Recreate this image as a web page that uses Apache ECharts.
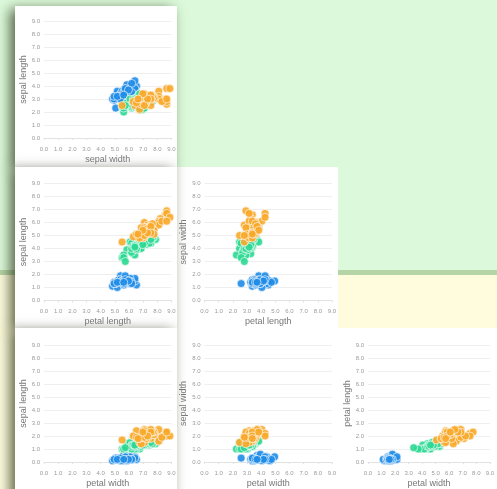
<!DOCTYPE html>
<html>
<head>
<meta charset="utf-8">
<script src="https://cdn.jsdelivr.net/npm/echarts@6/dist/echarts.min.js"></script>
<style>
html,body{margin:0;padding:0;}
#main{width:497px;height:489px;}
</style>
</head>
<body>
<div id="main"></div>
<script>
// Iris measurements: [sepal length, sepal width, petal length, petal width]
const setosa = [
[5.1,3.5,1.4,0.2],[4.9,3.0,1.4,0.2],[4.7,3.2,1.3,0.2],[4.6,3.1,1.5,0.2],[5.0,3.6,1.4,0.2],
[5.4,3.9,1.7,0.4],[4.6,3.4,1.4,0.3],[5.0,3.4,1.5,0.2],[4.4,2.9,1.4,0.2],[4.9,3.1,1.5,0.1],
[5.4,3.7,1.5,0.2],[4.8,3.4,1.6,0.2],[4.8,3.0,1.4,0.1],[4.3,3.0,1.1,0.1],[5.8,4.0,1.2,0.2],
[5.7,4.4,1.5,0.4],[5.4,3.9,1.3,0.4],[5.1,3.5,1.4,0.3],[5.7,3.8,1.7,0.3],[5.1,3.8,1.5,0.3],
[5.4,3.4,1.7,0.2],[5.1,3.7,1.5,0.4],[4.6,3.6,1.0,0.2],[5.1,3.3,1.7,0.5],[4.8,3.4,1.9,0.2],
[5.0,3.0,1.6,0.2],[5.0,3.4,1.6,0.4],[5.2,3.5,1.5,0.2],[5.2,3.4,1.4,0.2],[4.7,3.2,1.6,0.2],
[4.8,3.1,1.6,0.2],[5.4,3.4,1.5,0.4],[5.2,4.1,1.5,0.1],[5.5,4.2,1.4,0.2],[4.9,3.1,1.5,0.2],
[5.0,3.2,1.2,0.2],[5.5,3.5,1.3,0.2],[4.9,3.6,1.4,0.1],[4.4,3.0,1.3,0.2],[5.1,3.4,1.5,0.2],
[5.0,3.5,1.3,0.3],[4.5,2.3,1.3,0.3],[4.4,3.2,1.3,0.2],[5.0,3.5,1.6,0.6],[5.1,3.8,1.9,0.4],
[4.8,3.0,1.4,0.3],[5.1,3.8,1.6,0.2],[4.6,3.2,1.4,0.2],[5.3,3.7,1.5,0.2],[5.0,3.3,1.4,0.2]
];
const versicolor = [
[7.0,3.2,4.7,1.4],[6.4,3.2,4.5,1.5],[6.9,3.1,4.9,1.5],[5.5,2.3,4.0,1.3],[6.5,2.8,4.6,1.5],
[5.7,2.8,4.5,1.3],[6.3,3.3,4.7,1.6],[4.9,2.4,3.3,1.0],[6.6,2.9,4.6,1.3],[5.2,2.7,3.9,1.4],
[5.0,2.0,3.5,1.0],[5.9,3.0,4.2,1.5],[6.0,2.2,4.0,1.0],[6.1,2.9,4.7,1.4],[5.6,2.9,3.6,1.3],
[6.7,3.1,4.4,1.4],[5.6,3.0,4.5,1.5],[5.8,2.7,4.1,1.0],[6.2,2.2,4.5,1.5],[5.6,2.5,3.9,1.1],
[5.9,3.2,4.8,1.8],[6.1,2.8,4.0,1.3],[6.3,2.5,4.9,1.5],[6.1,2.8,4.7,1.2],[6.4,2.9,4.3,1.3],
[6.6,3.0,4.4,1.4],[6.8,2.8,4.8,1.4],[6.7,3.0,5.0,1.7],[6.0,2.9,4.5,1.5],[5.7,2.6,3.5,1.0],
[5.5,2.4,3.8,1.1],[5.5,2.4,3.7,1.0],[5.8,2.7,3.9,1.2],[6.0,2.7,5.1,1.6],[5.4,3.0,4.5,1.5],
[6.0,3.4,4.5,1.6],[6.7,3.1,4.7,1.5],[6.3,2.3,4.4,1.3],[5.6,3.0,4.1,1.3],[5.5,2.5,4.0,1.3],
[5.5,2.6,4.4,1.2],[6.1,3.0,4.6,1.4],[5.8,2.6,4.0,1.2],[5.0,2.3,3.3,1.0],[5.6,2.7,4.2,1.3],
[5.7,3.0,4.2,1.2],[5.7,2.9,4.2,1.3],[6.2,2.9,4.3,1.3],[5.1,2.5,3.0,1.1],[5.7,2.8,4.1,1.3]
];
const virginica = [
[6.3,3.3,6.0,2.5],[5.8,2.7,5.1,1.9],[7.1,3.0,5.9,2.1],[6.3,2.9,5.6,1.8],[6.5,3.0,5.8,2.2],
[7.6,3.0,6.6,2.1],[4.9,2.5,4.5,1.7],[7.3,2.9,6.3,1.8],[6.7,2.5,5.8,1.8],[7.2,3.6,6.1,2.5],
[6.5,3.2,5.1,2.0],[6.4,2.7,5.3,1.9],[6.8,3.0,5.5,2.1],[5.7,2.5,5.0,2.0],[5.8,2.8,5.1,2.4],
[6.4,3.2,5.3,2.3],[6.5,3.0,5.5,1.8],[7.7,3.8,6.7,2.2],[7.7,2.6,6.9,2.3],[6.0,2.2,5.0,1.5],
[6.9,3.2,5.7,2.3],[5.6,2.8,4.9,2.0],[7.7,2.8,6.7,2.0],[6.3,2.7,4.9,1.8],[6.7,3.3,5.7,2.1],
[7.2,3.2,6.0,1.8],[6.2,2.8,4.8,1.8],[6.1,3.0,4.9,1.8],[6.4,2.8,5.6,2.1],[7.2,3.0,5.8,1.6],
[7.4,2.8,6.1,1.9],[7.9,3.8,6.4,2.0],[6.4,2.8,5.6,2.2],[6.3,2.8,5.1,1.5],[6.1,2.6,5.6,1.4],
[7.7,3.0,6.1,2.3],[6.3,3.4,5.6,2.4],[6.4,3.1,5.5,1.8],[6.0,3.0,4.8,1.8],[6.9,3.1,5.4,2.1],
[6.7,3.1,5.6,2.4],[6.9,3.1,5.1,2.3],[5.8,2.7,5.1,1.9],[6.8,3.2,5.9,2.3],[6.7,3.3,5.7,2.5],
[6.7,3.0,5.2,2.3],[6.3,2.5,5.0,1.9],[6.5,3.0,5.2,2.0],[6.2,3.4,5.4,2.3],[5.9,3.0,5.1,1.8]
];
const speciesNames = ['setosa', 'versicolor', 'virginica'];
const speciesData = [setosa, versicolor, virginica];
const dimNames = ['sepal length', 'sepal width', 'petal length', 'petal width'];
const tickLabels = ['0.0','1.0','2.0','3.0','4.0','5.0','6.0','7.0','8.0','9.0'];
const colors = ['#1e8ce8', '#2cd892', '#f8a82a'];

// layout
const panelX = [15, 177, 338];
const panelW = [162, 161, 170];
const panelY = [6, 167, 328];
const panelH = [161, 161, 170];
const plotLeft = [44, 204.5, 368];
const plotW = 127.5;
const plotTop = [21, 183.5, 345];
const plotH = 117;

const grids = [], xAxes = [], yAxes = [], series = [], graphics = [];

// background
graphics.push({type:'rect', z:-100, shape:{x:0,y:0,width:497,height:270}, style:{fill:'#dcfadb'}});
graphics.push({type:'rect', z:-100, shape:{x:0,y:270,width:497,height:5}, style:{fill:'#b6d5a6'}});
graphics.push({type:'rect', z:-100, shape:{x:0,y:275,width:497,height:214}, style:{fill:'#fefcdc'}});

const labelStyle = {fontSize: 6, color: '#9a9a9a', formatter: v => tickLabels[Math.round(v)]};
const nameStyle = {fontSize: 9, color: '#777'};

let g = 0;
for (let r = 0; r < 3; r++) {
  for (let c = 0; c <= r; c++) {
    const xDim = c, yDim = r + 1;
    graphics.push({
      type: 'rect', z: c === 0 ? -50 : -60,
      shape: {x: panelX[c], y: panelY[r], width: panelW[c], height: panelH[r]},
      style: c === 0
        ? {fill: '#fff', shadowBlur: 12, shadowOffsetX: -5, shadowOffsetY: 3, shadowColor: 'rgba(30,40,10,0.7)'}
        : {fill: '#fff'}
    });
    grids.push({left: plotLeft[c], top: plotTop[r], width: plotW, height: plotH});
    // visible labelled axis
    xAxes.push({
      type: 'value', gridIndex: g, min: 0, max: 9, interval: 1,
      name: dimNames[r + 1], nameLocation: 'middle', nameGap: 17, nameTextStyle: nameStyle,
      axisLine: {show: true, lineStyle: {color: '#e2e2e2'}},
      axisTick: {show: true, length: 2, lineStyle: {color: '#e2e2e2'}},
      splitLine: {show: false},
      axisLabel: Object.assign({margin: 8}, labelStyle)
    });
    const hiddenIdx = xAxes.length;
    // data axis
    xAxes.push({type: 'value', gridIndex: g, min: 0, max: 8, show: false, splitLine: {show: false}});
    yAxes.push({
      type: 'value', gridIndex: g, min: 0, max: 9, interval: 1,
      name: dimNames[c], nameLocation: 'middle', nameGap: 14, nameTextStyle: nameStyle,
      axisLine: {show: false}, axisTick: {show: false},
      splitLine: {lineStyle: {color: '#efefef'}},
      axisLabel: Object.assign({margin: 4}, labelStyle)
    });
    speciesData.forEach((rows, s) => {
      series.push({
        type: 'scatter', name: speciesNames[s],
        xAxisIndex: hiddenIdx, yAxisIndex: g,
        symbolSize: 8,
        itemStyle: {color: colors[s], opacity: 0.9, borderColor: 'rgba(255,255,255,0.7)', borderWidth: 1},
        data: rows.map(d => [d[xDim], d[yDim]])
      });
    });
    g++;
  }
}

const chart = echarts.init(document.getElementById('main'), null, {renderer: 'canvas'});
chart.setOption({
  animation: false,
  textStyle: {fontFamily: 'Liberation Sans, Arial, sans-serif'},
  graphic: graphics,
  grid: grids,
  xAxis: xAxes,
  yAxis: yAxes,
  series: series
});
</script>
</body>
</html>
